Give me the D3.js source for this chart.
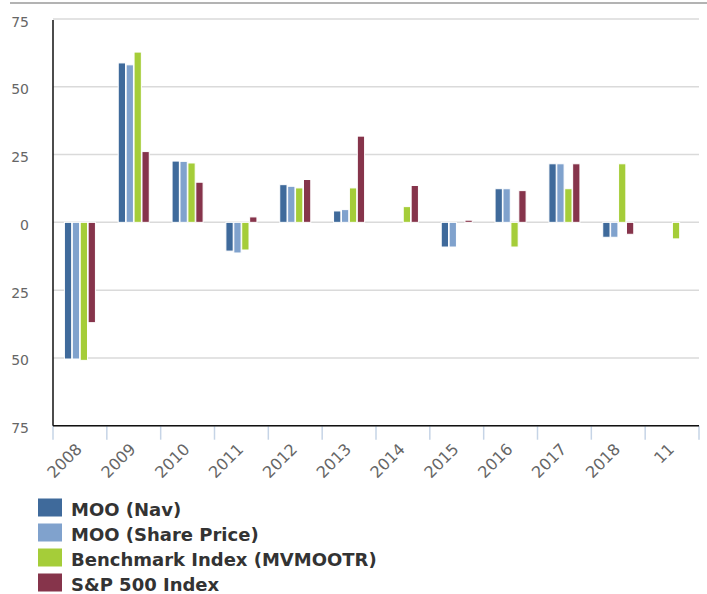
<!DOCTYPE html>
<html>
<head>
<meta charset="utf-8">
<script src="https://cdn.jsdelivr.net/npm/d3@7"></script>
<style>
  html, body { margin: 0; padding: 0; background: #fff; }
  svg { display: block; }
</style>
</head>
<body>
<svg id="chart" width="707" height="594"></svg>
<script>
// Calendar-year returns (%)
const categories = ["2008", "2009", "2010", "2011", "2012", "2013", "2014", "2015", "2016", "2017", "2018", "11"];
const seriesNames = ["MOO (Nav)", "MOO (Share Price)", "Benchmark Index (MVMOOTR)", "S&P 500 Index"];
const mooNav        = [-50.4, 58.8, 22.6, -10.6, 13.9, 4.2, null, -9.1, 12.4, 21.6, -5.5, null];
const mooSharePrice = [-50.4, 58.1, 22.5, -11.3, 13.3, 4.7, 0, -9.1, 12.4, 21.6, -5.5, null];
const benchmark     = [-50.9, 62.8, 21.9, -10.2, 12.7, 12.7, 5.8, 0, -9.1, 12.4, 21.6, -6.1];
const sp500         = [-37.0, 26.1, 14.8, 2.0, 15.8, 31.8, 13.6, 0.8, 11.7, 21.6, -4.4, null];
const yTickValues = [75, 50, 25, 0, -25, -50, -75];
const yTickLabels = ["75", "50", "25", "0", "25", "50", "75"];
const colors = ["#3f6a9b", "#80a2cd", "#a5cd39", "#86344b"];

const seriesValues = [mooNav, mooSharePrice, benchmark, sp500];

const svg = d3.select("#chart");
const plotLeft = 53, plotRight = 699, plotTop = 19, plotBottom = 425.7;

// thin rule across the top of the card
svg.append("line")
  .attr("x1", 10).attr("x2", 707).attr("y1", 3).attr("y2", 3)
  .attr("stroke", "#b3b3b3").attr("stroke-width", 2);

const y = d3.scaleLinear().domain([-75, 75]).range([plotBottom, plotTop]);
const x0 = d3.scaleBand().domain(categories).range([plotLeft, plotRight])
  .paddingInner(0.4).paddingOuter(0.2);
const x1 = d3.scaleBand().domain(d3.range(seriesNames.length))
  .range([0, x0.bandwidth()]).padding(0.08);

// horizontal grid
svg.append("g").selectAll("line").data(yTickValues).join("line")
  .attr("x1", plotLeft).attr("x2", plotRight)
  .attr("y1", d => y(d)).attr("y2", d => y(d))
  .attr("stroke", "#dadada").attr("stroke-width", 1.5);

// y axis labels
const yAxis = d3.axisLeft(y).tickValues(yTickValues)
  .tickFormat((d, i) => yTickLabels[i]).tickSize(0).tickPadding(0);
const gy = svg.append("g").attr("transform", "translate(29,0)").call(yAxis);
gy.select(".domain").remove();
gy.selectAll("text")
  .attr("font-family", "DejaVu Sans, sans-serif").attr("font-size", 14)
  .attr("fill", "#666").attr("dy", "0.5em");

// bars
const groups = svg.append("g").selectAll("g").data(categories).join("g")
  .attr("transform", d => `translate(${x0(d)},0)`);
groups.selectAll("rect")
  .data((c, ci) => seriesValues.map((vals, si) => ({ si, v: vals[ci] })).filter(d => d.v !== null))
  .join("rect")
  .attr("x", d => x1(d.si))
  .attr("width", x1.bandwidth())
  .attr("y", d => y(Math.max(0, d.v)))
  .attr("height", d => Math.abs(y(d.v) - y(0)))
  .attr("fill", d => colors[d.si])
  .attr("stroke", "#fff").attr("stroke-width", 1);

// x axis
const xAxis = d3.axisBottom(x0).tickSize(0).tickPadding(0);
const gx = svg.append("g").attr("transform", `translate(0,${plotBottom})`).call(xAxis);
gx.select(".domain").remove();
gx.selectAll("text")
  .attr("font-family", "DejaVu Sans, sans-serif").attr("font-size", 16)
  .attr("fill", "#666")
  .attr("text-anchor", "end")
  .attr("dy", 0).attr("y", 0)
  .attr("transform", "translate(3,24.5) rotate(-45)");

// category boundary ticks
const edges = categories.map(c => x0(c) - x0.step() * x0.paddingInner() / 2);
edges.push(plotRight);
svg.append("g").selectAll("line").data(edges).join("line")
  .attr("x1", d => Math.max(plotLeft, d)).attr("x2", d => Math.max(plotLeft, d))
  .attr("y1", plotBottom).attr("y2", plotBottom + 14)
  .attr("stroke", "#c6d4e6").attr("stroke-width", 1.5);

// axis lines
svg.append("line").attr("x1", plotLeft).attr("x2", plotLeft).attr("y1", plotTop + 1).attr("y2", plotBottom)
  .attr("stroke", "#111").attr("stroke-width", 1.5);
svg.append("line").attr("x1", plotLeft).attr("x2", plotRight).attr("y1", plotBottom).attr("y2", plotBottom)
  .attr("stroke", "#111").attr("stroke-width", 1.5);

// legend
const legend = svg.append("g").attr("transform", "translate(38,498.5)");
const items = legend.selectAll("g").data(seriesNames).join("g")
  .attr("transform", (d, i) => `translate(0,${i * 25})`);
items.append("rect").attr("width", 24).attr("height", 18)
  .attr("fill", (d, i) => colors[i]);
items.append("text").attr("x", 33).attr("y", 17.5)
  .attr("font-family", "DejaVu Sans, sans-serif").attr("font-weight", "bold")
  .attr("font-size", 18).attr("fill", "#333")
  .text(d => d);
</script>
</body>
</html>
